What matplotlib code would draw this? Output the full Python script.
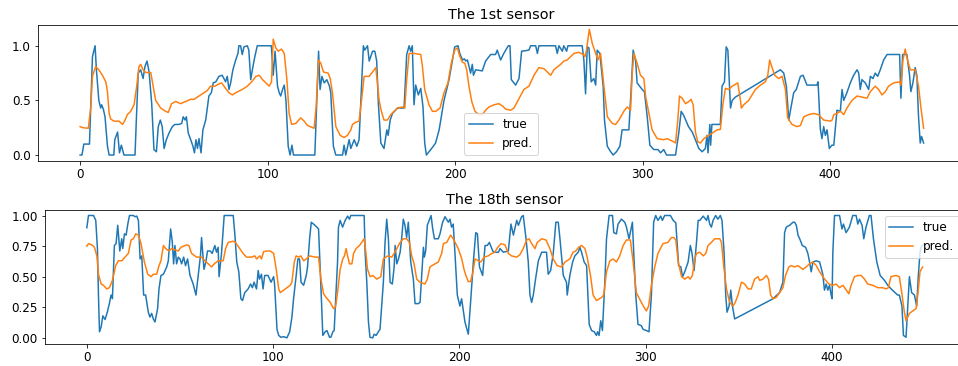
import matplotlib
matplotlib.use("Agg")
import matplotlib.pyplot as plt

# ---------------- data (x index, value) ----------------
sensor1_true = [
    (0, 0), (1, 0), (2, 0.10), (5, 0.10), (6.6, 0.90), (8, 1.0), (8.7, 0.78), (10, 0.50), (11, 0.43),
    (11.5, 0.46), (12.4, 0.42), (13.3, 0.35), (14.6, 0.08), (15.5, 0), (18, 0), (18.5, 0.14), (20, 0.21),
    (21, 0.02), (22, 0.09), (23.4, 0), (29.3, 0), (30, 0.32), (31, 0.75), (32.3, 0.78), (33.6, 0.70),
    (34.6, 0.81), (35.7, 0.86), (36.8, 0.76), (38.2, 0.47), (39.4, 0.05), (40.7, 0.03), (41.7, 0.26),
    (42.8, 0.32), (43.8, 0.26), (44.8, 0.06), (46, 0.14), (47.4, 0.20), (49.2, 0.26), (50.6, 0.28),
    (52.8, 0.28), (54.2, 0.29), (55, 0.35), (56, 0.32), (56.7, 0.35), (57.7, 0.20), (59, 0.14), (60.2, 0.08),
    (61, 0.02), (61.8, 0.14), (62.6, 0.06), (63.4, 0.15), (64.5, 0.02), (65.5, 0.23), (67, 0.32), (68.7, 0.54),
    (70, 0.57), (71, 0.66), (72.4, 0.67), (74, 0.72), (75.8, 0.73), (77.6, 0.67), (78.5, 0.72), (79.4, 0.60),
    (80.3, 0.66), (81.5, 0.78), (83, 0.87), (84.2, 0.93), (84.7, 1.0), (85.6, 1.0), (86.5, 0.92), (87.4, 0.99),
    (89.2, 1.0), (90, 0.96), (91, 0.69), (92.2, 0.81), (93.2, 0.90), (94.5, 1.0), (102, 1.0), (103, 0.73),
    (104, 0.95), (105.3, 0.63), (106.2, 0.57), (107, 0.54), (108, 0.60), (108.9, 0.64), (109.8, 0.50),
    (111, 0.08), (112, 0), (113, 0.09), (113.8, 0), (125.2, 0), (127.2, 0.95), (128, 0.60), (129, 0.72),
    (130.2, 0.66), (131.6, 0.69), (133, 0.63), (133.7, 0.57), (135.1, 0.08), (136.4, 0), (140, 0),
    (140.8, 0.09), (141.7, 0), (143.5, 0.14), (144.4, 0.06), (146.2, 0.14), (147.6, 0.08), (148.8, 0.14),
    (149.7, 0.47), (151.1, 1.0), (151.8, 0.96), (153.3, 1.0), (154.2, 0.86), (156, 0.95), (157.2, 0.95),
    (158.2, 0.86), (159.1, 0.47), (160.4, 0.11), (162.1, 0.06), (163.6, 0.23), (164.3, 0.18), (165.4, 0.32),
    (166.6, 0.38), (169.3, 0.43), (172.8, 0.43), (174.2, 0.92), (175.5, 1.0), (176.3, 0.95), (177.2, 1.0),
    (178.1, 0.46), (179, 0.64), (180.4, 0.55), (181.7, 0.61), (182.9, 0.44), (183.8, 0.11), (184.7, 0),
    (186.1, 0.03), (188.4, 0.08), (189.6, 0.11), (191.5, 0.23), (194.1, 0.50), (196.8, 0.69), (198, 0.81),
    (199.8, 0.99), (201.6, 1.0), (202.5, 0.93), (204, 0.87), (205, 0.88), (205.7, 0.86), (206.6, 0.87),
    (208.3, 0.75), (209.2, 0.83), (209.8, 0.73), (211, 0.78), (214.5, 0.77), (216.3, 0.86), (219, 0.92),
    (221.6, 0.92), (222.5, 0.96), (224.3, 0.87), (226, 0.93), (228.4, 1.0), (229.3, 1.0), (230, 0.69),
    (232.3, 0.64), (234.1, 0.70), (235.5, 0.95), (239.4, 0.96), (240.3, 1.0), (243, 1.0), (243.9, 0.93),
    (244.7, 1.0), (253.6, 1.0), (254.5, 0.93), (255.4, 1.0), (257.2, 0.95), (258, 1.0), (259.5, 0.95),
    (260.2, 1.0), (267.8, 1.0), (268.7, 0.87), (269.6, 0.56), (270.5, 0.99), (271.4, 0.98), (272.6, 0.67),
    (274, 0.70), (275, 0.64), (275.8, 0.96), (277.2, 0.93), (279, 0.63), (279.7, 0.32), (281.2, 0.08),
    (283, 0.03), (284.3, 0), (286.1, 0.03), (287.9, 0.08), (289.1, 0.23), (292.7, 0.23), (294, 0.63),
    (295, 0.96), (296.3, 0.86), (297.1, 0.66), (299.8, 0.60), (301, 0.58), (302.5, 0.35), (303.9, 0.09),
    (306, 0.05), (308.2, 0.05), (309.6, 0.02), (311.3, 0.05), (312.8, 0), (317.6, 0), (319.3, 0.20),
    (320.6, 0.40), (322, 0.36), (324.5, 0.26), (326.5, 0.21), (328.2, 0.14), (330, 0.06), (331.8, 0.03),
    (333.5, 0.06), (334.4, 0.18), (334.9, 0.02), (335.9, 0.28), (336.3, 0.09), (337, 0.28), (341.5, 0.28),
    (342.4, 0.63), (343.7, 0.67), (344.6, 0.99), (345.5, 0.96), (346.9, 0.43), (347.8, 0.50), (349.5, 0.53),
    (373.5, 0.78), (375.3, 0.75), (376.7, 0.63), (378, 0.32), (378.8, 0.40), (380.6, 0.57), (382, 0.60),
    (384.2, 0.72), (385.6, 0.73), (387.7, 0.64), (393, 0.64), (393.6, 0.67), (394.8, 0.24), (395.7, 0.15),
    (396.6, 0.26), (397.5, 0.18), (398.4, 0.23), (399.6, 0.06), (401, 0.09), (402, 0.09), (403.7, 0.41),
    (405.5, 0.40), (406.4, 0.60), (407.3, 0.50), (409, 0.57), (410.8, 0.66), (412.6, 0.73), (414.4, 0.78),
    (415.3, 0.75), (416.1, 0.60), (417, 0.69), (418.8, 0.66), (420.6, 0.60), (421.5, 0.72), (422.9, 0.70),
    (424.1, 0.75), (425.4, 0.72), (426.8, 0.78), (428.6, 0.87), (430.4, 0.92), (437.1, 0.92), (437.8, 0.52),
    (438.7, 0.92), (441, 0.92), (442.4, 0.73), (443.1, 0.58), (444.2, 0.66), (445.4, 0.80), (446.3, 0.73),
    (447.2, 0.35), (448.1, 0.11), (448.8, 0.17), (449.9, 0.11),
]

sensor1_pred = [
    (0, 0.26), (1.4, 0.25), (4.4, 0.245), (5.7, 0.44), (6.6, 0.72), (8.3, 0.81), (10, 0.78), (11.9, 0.73),
    (13.7, 0.67), (14.6, 0.58), (15.5, 0.38), (16.3, 0.33), (18, 0.31), (20.8, 0.31), (22.6, 0.28), (24, 0.32),
    (25.2, 0.37), (27, 0.40), (28.8, 0.46), (30.2, 0.63), (31.4, 0.81), (32.3, 0.83), (33.6, 0.78), (35, 0.755),
    (37.7, 0.755), (39, 0.63), (40.3, 0.50), (43, 0.43), (45.6, 0.40), (47, 0.39), (48.8, 0.47), (51, 0.49),
    (53.6, 0.47), (56.3, 0.49), (59, 0.51), (60.8, 0.51), (63.4, 0.54), (66, 0.57), (67.8, 0.59), (69.6, 0.63),
    (71.9, 0.63), (74, 0.65), (75.5, 0.66), (77.6, 0.61), (79.4, 0.57), (81.2, 0.55), (83, 0.57), (86.5, 0.60),
    (89.2, 0.63), (91.5, 0.67), (93.8, 0.72), (95.5, 0.73), (97.3, 0.69), (99.1, 0.66), (100.9, 0.63),
    (102.1, 0.67), (103, 1.06), (104.4, 0.98), (105.7, 0.95), (107.4, 0.97), (108.9, 0.93), (110.3, 0.69),
    (111.5, 0.38), (112.8, 0.28), (115.1, 0.29), (117.7, 0.34), (119.5, 0.31), (121.3, 0.27), (124.8, 0.245),
    (125.9, 0.44), (127.2, 0.87), (128.4, 0.84), (129.8, 0.76), (132.3, 0.75), (133.4, 0.70), (134.6, 0.57),
    (136.4, 0.26), (138.7, 0.18), (140.8, 0.16), (142.6, 0.18), (144.4, 0.23), (145.3, 0.28), (147, 0.30),
    (148.8, 0.31), (150.1, 0.50), (151.5, 0.72), (154.2, 0.72), (156, 0.76), (157.7, 0.80), (158.6, 0.66),
    (159.5, 0.50), (160.7, 0.40), (162.1, 0.32), (163.9, 0.32), (165.7, 0.37), (167.5, 0.40), (169.3, 0.43),
    (171.9, 0.44), (173.2, 0.43), (174.2, 0.69), (175.5, 0.93), (178.1, 0.93), (181.7, 0.92), (182.6, 0.81),
    (183.8, 0.60), (186.1, 0.46), (187.9, 0.40), (189.7, 0.40), (192, 0.43), (194.1, 0.57), (196.2, 0.66),
    (198, 0.84), (199.8, 0.96), (201.2, 0.98), (202.6, 0.90), (203.9, 0.85), (205.2, 0.84), (206.2, 0.78),
    (207.4, 0.63), (208.9, 0.49), (210.6, 0.40), (212.8, 0.37), (214.5, 0.37), (216.3, 0.41), (218.1, 0.44),
    (220.8, 0.46), (223.4, 0.47), (225.2, 0.45), (227, 0.42), (229.6, 0.41), (231.4, 0.43), (233.6, 0.50),
    (236.7, 0.60), (239.4, 0.63), (242.1, 0.73), (244.7, 0.80), (247.4, 0.79), (249.2, 0.76), (251, 0.73),
    (252.7, 0.78), (256.3, 0.83), (258.1, 0.86), (259.8, 0.87), (263.4, 0.93), (266, 0.94), (268.4, 0.92),
    (269.3, 0.90), (270.1, 0.96), (271.6, 1.15), (273.2, 1.02), (275, 0.93), (276.2, 0.87), (277.6, 0.93),
    (279.4, 0.63), (281.2, 0.35), (283.8, 0.29), (285.6, 0.28), (287.4, 0.32), (290, 0.40), (291.8, 0.44),
    (293.6, 0.41), (294.5, 0.75), (295.4, 0.93), (297.1, 0.84), (298.9, 0.73), (300.7, 0.70), (301.6, 0.54),
    (303.4, 0.38), (305.1, 0.23), (307.8, 0.15), (311.3, 0.14), (313.1, 0.15), (316.7, 0.12), (317.6, 0.11),
    (318.8, 0.32), (319.7, 0.54), (321.1, 0.52), (322.9, 0.47), (324.7, 0.49), (325.9, 0.51), (327, 0.46),
    (328.2, 0.21), (329.5, 0.12), (330.9, 0.11), (332.7, 0.15), (334.4, 0.17), (337.1, 0.20), (339.8, 0.23),
    (341.5, 0.235), (342.9, 0.47), (344.2, 0.61), (346, 0.60), (347.8, 0.63), (350.8, 0.66), (352.2, 0.50),
    (352.7, 0.43), (354, 0.46), (356.6, 0.50), (360.2, 0.60), (362.9, 0.64), (365.5, 0.67), (366.8, 0.73),
    (367.8, 0.87), (369.1, 0.80), (370.5, 0.73), (372.6, 0.70), (374.4, 0.72), (376.2, 0.60), (377.4, 0.34),
    (379.7, 0.28), (382.4, 0.26), (384.2, 0.27), (386, 0.35), (388.6, 0.37), (391.3, 0.38), (393.9, 0.37),
    (396.6, 0.32), (400.2, 0.31), (401.1, 0.32), (402, 0.37), (403.7, 0.38), (405.5, 0.40), (407.3, 0.37),
    (409, 0.43), (411.7, 0.50), (414.4, 0.54), (417, 0.53), (419.7, 0.52), (421.5, 0.58), (424.1, 0.63),
    (425.9, 0.60), (427.7, 0.55), (429.5, 0.58), (431.2, 0.63), (433.9, 0.66), (437.1, 0.67), (437.8, 0.64),
    (438.9, 0.87), (440.1, 0.97), (441.3, 0.87), (442.8, 0.78), (445.4, 0.78), (447.2, 0.63), (448.5, 0.43),
    (449.9, 0.245),
]

sensor18_true = [
    (0, 0.90), (0.9, 1.0), (3.6, 1.0), (4.8, 0.96), (5.7, 0.73), (6.25, 0.35), (6.8, 0.05), (7.7, 0.09),
    (8.6, 0.18), (9.8, 0.15), (11, 0.21), (12.1, 0.28), (13, 0.35), (13.75, 0.32), (14.8, 0.755), (15.7, 0.77),
    (16.6, 0.92), (17.7, 0.71), (18.75, 0.81), (19.3, 0.73), (20.2, 0.85), (21.1, 0.84), (22, 0.93), (22.9, 1.0),
    (25, 1.0), (25.9, 0.99), (26.8, 0.995), (27.7, 0.96), (28.6, 0.645), (29.5, 0.67), (30.5, 0.35),
    (31.6, 0.35), (33, 0.21), (33.9, 0.17), (34.8, 0.20), (35.7, 0.155), (36.6, 0.13), (38, 0.24),
    (38.75, 0.40), (39.8, 0.51), (41.1, 0.52), (42.9, 0.58), (43.75, 0.63), (45, 0.89), (45.9, 0.78),
    (46.6, 0.605), (47.3, 0.755), (48.2, 0.605), (49.1, 0.66), (50, 0.645), (50.9, 0.605), (52, 0.66),
    (53, 0.59), (54.1, 0.645), (55.4, 0.51), (57.1, 0.44), (58.6, 0.35), (59.8, 0.51), (61, 0.67),
    (61.6, 0.82), (62.9, 0.56), (63.9, 0.62), (64.8, 0.71), (66.3, 0.71), (67.3, 0.69), (68.75, 0.755),
    (69.6, 0.70), (70.5, 0.74), (71, 0.50), (72.3, 0.69), (73.75, 1.0), (78.6, 1.0), (79.5, 0.84),
    (80.5, 0.62), (81.6, 0.54), (82.7, 0.32), (83.6, 0.305), (84.8, 0.37), (86.6, 0.40), (87.9, 0.44),
    (88.9, 0.41), (89.8, 0.455), (91.1, 0.40), (92, 0.55), (92.7, 0.48), (93.75, 0.52), (94.6, 0.40),
    (95.5, 0.51), (97.3, 0.51), (98.9, 0.455), (100.3, 0.50), (100.8, 0.44), (102.1, 0.07), (103, 0.02),
    (104.2, 0.005), (105.7, 0.01), (107.4, 0.0), (108.9, 0.05), (110.1, 0.17), (111, 0.32), (112.4, 0.51),
    (113.3, 0.645), (114.2, 0.645), (115, 0.455), (116.4, 0.43), (117.8, 0.51), (118.5, 0.58), (119.6, 0.81),
    (120.5, 0.945), (121.7, 0.93), (123.5, 0.905), (124.4, 0.89), (125.3, 0.56), (126.7, 0.02), (128, 0.05),
    (128.9, 0.06), (130.3, 0.005), (131, 0.005), (132.1, 0.05), (132.8, 0.06), (133.7, 0.35), (134.6, 0.62),
    (135.1, 0.905), (136, 0.96), (137.3, 0.905), (138.7, 0.96), (140, 0.995), (141, 0.97), (141.7, 1.0),
    (148.9, 1.0), (149.4, 0.70), (150.3, 0.455), (151.2, 0.13), (152, 0.005), (153.5, 0.0), (154.2, 0.03),
    (155.3, 0.02), (156.5, 0.05), (157.4, 0.07), (159.2, 0.455), (160.1, 0.78), (161, 0.97), (161.9, 0.81),
    (162.8, 0.455), (164, 0.44), (165, 0.58), (165.5, 0.755), (166.4, 0.605), (167.3, 0.645), (168.2, 0.70),
    (169, 0.81), (169.9, 0.97), (170.8, 0.92), (171.7, 0.82), (172.6, 0.945), (173.9, 0.62), (175.3, 0.48),
    (176.2, 0.28), (178, 0.28), (178.9, 0.29), (180.7, 0.74), (181.2, 0.66), (181.9, 0.71), (182.8, 0.92),
    (184.8, 1.0), (185.7, 0.89), (186.6, 0.81), (188.7, 0.81), (189.6, 0.85), (191, 0.945), (192.3, 0.99),
    (194.1, 0.945), (195, 0.97), (195.8, 0.905), (196.7, 0.93), (197.6, 0.70), (198.9, 0.35), (200.3, 0.26),
    (201.2, 0.32), (203, 0.13), (204.8, 0.03), (206.3, 0.35), (207.5, 0.62), (208.8, 0.86), (209.7, 0.85),
    (210.8, 0.58), (212.5, 0.51), (213.8, 0.755), (215, 0.755), (216.1, 0.78), (217.4, 0.73), (218.3, 0.70),
    (221, 0.70), (221.8, 0.73), (223.6, 0.70), (226.3, 0.71), (227.7, 0.93), (229, 0.84), (230.8, 0.96),
    (231.7, 0.92), (233.4, 0.99), (234.3, 1.0), (235.8, 0.81), (237, 0.62), (237.9, 0.35), (238.8, 0.29),
    (239.7, 0.35), (240.9, 0.48), (242.4, 0.63), (244.2, 0.70), (246.8, 0.70), (247.7, 0.52), (249, 0.55),
    (250.4, 0.69), (251.8, 0.945), (253.1, 0.945), (254, 0.81), (255.8, 0.51), (257.5, 0.455), (257.9, 0.35),
    (259.3, 0.51), (260.8, 0.62), (262, 0.67), (263.8, 0.70), (264.7, 0.74), (265.6, 0.70), (267, 0.62),
    (268.3, 0.59), (269.7, 0.11), (271, 0.06), (272.4, 0.05), (273.6, 0.02), (274.2, 0.05), (275, 0.02),
    (275.9, 0.14), (276.8, 0.06), (278.1, 0.455), (279, 0.81), (280.4, 1.0), (282.2, 1.0), (282.9, 0.86),
    (284.3, 0.85), (285.2, 0.93), (287, 0.97), (288.8, 0.945), (289.7, 0.905), (291.1, 0.81), (292.9, 0.945),
    (293.6, 0.70), (294.7, 0.35), (295.9, 0.11), (297.7, 0.10), (298.6, 0.07), (300.4, 0.06), (301.8, 0.05),
    (303.1, 0.35), (304.3, 0.945), (305.4, 1.0), (306.6, 0.96), (308.1, 0.995), (309, 0.96), (310.2, 1.0),
    (313.3, 1.0), (314.8, 0.96), (316.2, 0.94), (317.7, 0.59), (318.9, 0.58), (319.8, 0.50), (321, 0.54),
    (322.8, 0.62), (324, 0.755), (324.9, 0.69), (326, 0.55), (327.3, 0.78), (328.2, 0.96), (329.1, 0.96),
    (330.9, 0.995), (332.7, 0.96), (333.5, 1.0), (334.4, 0.93), (335.3, 0.905), (336.2, 0.96), (337.6, 1.0),
    (338.8, 0.97), (340.1, 1.0), (341, 0.96), (342.1, 0.70), (343, 0.35), (343.7, 0.21), (344.8, 0.26),
    (345.7, 0.39), (346.6, 0.26), (347.8, 0.155), (368.4, 0.32), (371.9, 0.37), (373.7, 0.455), (374.6, 0.86),
    (375.5, 0.905), (377.3, 0.92), (379.1, 0.945), (380, 0.945), (380.9, 0.92), (381.8, 0.84), (382.7, 0.81),
    (384.1, 0.755), (385.9, 0.74), (387.1, 0.69), (388, 0.62), (388.9, 0.54), (389.8, 0.62), (391.6, 0.63),
    (393.4, 0.62), (395.1, 0.52), (396, 0.39), (396.9, 0.44), (397.8, 0.39), (398.7, 0.43), (399.6, 0.35),
    (400.1, 0.32), (400.5, 0.70), (401.4, 1.0), (404.1, 1.0), (405.4, 0.89), (406.2, 0.93), (407.6, 0.86),
    (409.4, 0.905), (411.2, 1.0), (413, 1.0), (413.9, 0.93), (414.8, 0.97), (416.2, 0.92), (417.1, 0.81),
    (418.3, 0.905), (420.1, 1.0), (421, 1.0), (422.3, 0.81), (424.1, 0.62), (425.9, 0.51), (428.2, 0.47),
    (430, 0.43), (431.8, 0.40), (435.3, 0.35), (436.2, 0.35), (437.6, 0.26), (438.4, 0.02), (439.8, 0.005),
    (440.7, 0.26), (441.6, 0.50), (442.8, 0.37), (444.3, 0.35), (445.5, 0.26), (446.4, 0.51), (447.3, 0.70),
    (447.8, 0.74), (449, 0.76),
]

sensor18_pred = [
    (0, 0.75), (0.9, 0.77), (2.7, 0.76), (4.1, 0.74), (5.4, 0.67), (6.25, 0.52), (7.7, 0.44), (8.9, 0.43),
    (10.7, 0.40), (12.1, 0.41), (13.75, 0.47), (15.5, 0.59), (16.9, 0.63), (18.75, 0.63), (20.5, 0.66),
    (22.3, 0.69), (23.75, 0.80), (25, 0.81), (26.25, 0.85), (27.7, 0.84), (29.1, 0.77), (30.9, 0.62),
    (32.7, 0.52), (34.5, 0.50), (35.7, 0.52), (37.5, 0.52), (38.75, 0.59), (39.8, 0.63), (41.1, 0.755),
    (42.3, 0.73), (44.1, 0.71), (45.5, 0.73), (49.1, 0.71), (50.5, 0.74), (53.6, 0.76), (54.8, 0.755),
    (56.25, 0.69), (58.9, 0.66), (61.6, 0.66), (63.4, 0.63), (65.2, 0.605), (67, 0.58), (68.4, 0.605),
    (70.5, 0.63), (73.2, 0.63), (74.5, 0.73), (75.9, 0.78), (78.6, 0.79), (79.8, 0.78), (82.1, 0.73),
    (83.9, 0.69), (85.7, 0.66), (88.4, 0.66), (90.2, 0.67), (91.1, 0.645), (92.9, 0.67), (93.75, 0.645),
    (94.9, 0.705), (96.7, 0.71), (98.5, 0.71), (100.3, 0.69), (101.7, 0.56), (103, 0.40), (103.9, 0.37),
    (105.7, 0.39), (107.4, 0.41), (109.2, 0.43), (110.1, 0.455), (111.4, 0.62), (112.4, 0.67), (113.7, 0.66),
    (114.9, 0.67), (116.4, 0.63), (117.8, 0.645), (119.6, 0.67), (122.6, 0.66), (124.4, 0.66), (125.7, 0.48),
    (127.1, 0.36), (128.5, 0.33), (130.7, 0.29), (132.4, 0.24), (133.5, 0.25), (134.6, 0.37), (136, 0.56),
    (137.4, 0.645), (138.3, 0.67), (139.2, 0.73), (140, 0.67), (141, 0.605), (142.3, 0.605), (143.2, 0.69),
    (144.6, 0.73), (146.4, 0.755), (147.6, 0.78), (148.9, 0.81), (149.6, 0.73), (150.7, 0.56), (152.1, 0.50),
    (153.5, 0.51), (155.7, 0.48), (157.8, 0.50), (159.2, 0.645), (161.4, 0.67), (163.7, 0.66), (165, 0.69),
    (166.4, 0.73), (168.2, 0.78), (169.9, 0.81), (171.7, 0.81), (173.2, 0.78), (174.4, 0.67), (175.7, 0.605),
    (177.1, 0.48), (178.9, 0.455), (181.5, 0.44), (182.8, 0.48), (184.2, 0.58), (186.9, 0.605), (188.7, 0.62),
    (190.5, 0.69), (191.4, 0.77), (193.2, 0.78), (194.6, 0.82), (195.3, 0.84), (196.7, 0.81), (199.4, 0.73),
    (201.2, 0.65), (202.5, 0.56), (203.5, 0.51), (204.8, 0.46), (206, 0.46), (207.2, 0.53), (208.4, 0.645),
    (210.2, 0.63), (211.5, 0.62), (213.3, 0.66), (215.5, 0.67), (217.4, 0.69), (219, 0.70), (220.6, 0.74),
    (222.4, 0.77), (224.5, 0.76), (226.3, 0.69), (228, 0.67), (230.8, 0.66), (232.5, 0.68), (234.3, 0.73),
    (236.1, 0.80), (237.4, 0.81), (238.8, 0.77), (240.6, 0.73), (241.8, 0.78), (244.2, 0.81), (246.5, 0.80),
    (248.6, 0.73), (250.4, 0.645), (252.5, 0.59), (254.9, 0.58), (256.7, 0.62), (259.3, 0.645), (261, 0.70),
    (262.5, 0.71), (264, 0.74), (265.6, 0.755), (267.4, 0.73), (268.6, 0.66), (270.4, 0.51), (271.8, 0.35),
    (273.6, 0.305), (276.3, 0.33), (277.5, 0.35), (279, 0.54), (280.8, 0.63), (282.6, 0.645), (284.3, 0.62),
    (286.1, 0.67), (287.9, 0.755), (289.7, 0.80), (291.8, 0.80), (293.3, 0.62), (295, 0.37), (297.7, 0.29),
    (299.5, 0.24), (300.4, 0.22), (301.6, 0.26), (303.1, 0.43), (304.9, 0.58), (306.6, 0.69), (309.3, 0.77),
    (312, 0.78), (313.8, 0.82), (315.1, 0.82), (316.2, 0.80), (317.5, 0.62), (319.3, 0.50), (321, 0.48),
    (322.8, 0.50), (323.9, 0.48), (325.1, 0.51), (326.4, 0.645), (327.3, 0.69), (329.1, 0.70), (330.9, 0.67),
    (332.3, 0.69), (333.5, 0.755), (335.3, 0.78), (337.1, 0.81), (339.8, 0.81), (340.7, 0.78), (341.9, 0.59),
    (343.4, 0.40), (345.1, 0.29), (346.9, 0.26), (348.1, 0.29), (349.6, 0.35), (351.4, 0.455), (353.2, 0.44),
    (355, 0.40), (356.7, 0.40), (358.5, 0.48), (360.3, 0.50), (361.2, 0.47), (363, 0.48), (364.8, 0.51),
    (366, 0.48), (367.1, 0.35), (368.4, 0.32), (370.1, 0.33), (371.9, 0.37), (373.7, 0.41), (375.1, 0.51),
    (376.9, 0.58), (378.2, 0.59), (380, 0.58), (381.8, 0.59), (384.4, 0.56), (386.2, 0.58), (388, 0.605),
    (389.8, 0.62), (391.6, 0.59), (393.4, 0.54), (396.1, 0.48), (398.4, 0.44), (400.5, 0.43), (402.3, 0.44),
    (404.1, 0.41), (405.9, 0.43), (407.7, 0.39), (409.1, 0.36), (410.3, 0.43), (412.1, 0.50), (413.9, 0.51),
    (415.7, 0.51), (417.5, 0.48), (419.2, 0.44), (421.9, 0.43), (424.6, 0.41), (427.3, 0.41), (429.1, 0.40),
    (430.3, 0.41), (431.7, 0.50), (434.4, 0.51), (436.2, 0.50), (437.5, 0.37), (438.9, 0.21), (439.8, 0.14),
    (441.6, 0.20), (443.4, 0.22), (445.2, 0.24), (446.1, 0.35), (447.3, 0.54), (448.7, 0.58),
]

titles = ["The 1st sensor", "The 18th sensor"]
legend_labels = ["true", "pred."]
xticks = [0, 100, 200, 300, 400]
yticks_top = [0.0, 0.5, 1.0]
yticks_bottom = [0.00, 0.25, 0.50, 0.75, 1.00]

# ---------------- figure ----------------
plt.rcParams["font.size"] = 12
DPI = 72
fig = plt.figure(figsize=(958 / DPI, 366 / DPI), dpi=DPI)

ax1 = fig.add_axes([38 / 958, 1 - 160.7 / 366, (964 - 38) / 958, (160.7 - 25) / 366])
ax2 = fig.add_axes([45 / 958, 1 - 344 / 366, (965 - 45) / 958, (344 - 210) / 366])

panels = [
    (ax1, sensor1_true, sensor1_pred, titles[0], yticks_top, "lower center", "%.1f"),
    (ax2, sensor18_true, sensor18_pred, titles[1], yticks_bottom, "upper right", "%.2f"),
]
for ax, tr, pr, title, yt, loc, fmt in panels:
    tx, ty = zip(*tr)
    px, py = zip(*pr)
    ax.plot(tx, ty, color="#1f77b4", lw=1.5, label=legend_labels[0])
    ax.plot(px, py, color="#ff7f0e", lw=1.5, label=legend_labels[1])
    ax.set_title(title)
    ax.set_xlim(-22.45, 471.45)
    ax.set_xticks(xticks)
    ax.set_yticks(yt)
    ax.set_yticklabels([fmt % v for v in yt])
    ax.legend(loc=loc)

ax1.set_ylim(-0.052, 1.19)
ax2.set_ylim(-0.05, 1.045)

fig.savefig("out.png", dpi=DPI)
